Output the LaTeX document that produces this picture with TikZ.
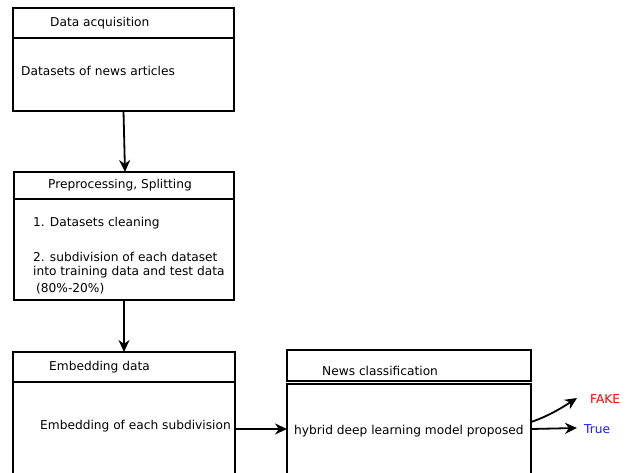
\documentclass[tikz,border=0pt]{standalone}
\usepackage{fontspec}
\setmainfont{DejaVu Sans}
\usetikzlibrary{arrows.meta}
\begin{document}
\begin{tikzpicture}[x=1pt,y=-1pt,
  box/.style={draw, line width=1.8pt, inner sep=0pt, outer sep=0pt},
  lbl/.style={anchor=west, inner sep=0pt, yshift=-1.5pt, font=\fontsize{12.2}{14}\selectfont},
  conn/.style={line width=1.8pt, -{Stealth[length=12pt,width=11pt]}}]
\useasboundingbox (0,0) rectangle (630,472);
\clip (0,0) rectangle (630,472);
% box 1
\node[box, minimum width=221pt, minimum height=30pt] (h1) at (123.5,23) {};
\node[box, minimum width=221pt, minimum height=73pt] (b1) at (123.5,74.5) {};
\node[lbl] (t1) at (50,22) {Data acquisition};
\node[lbl] (s1) at (21,69) {Datasets of news articles};
% box 2
\node[box, minimum width=220pt, minimum height=27pt] (h2) at (124,185.5) {};
\node[box, minimum width=220pt, minimum height=101pt] (b2) at (124,249.5) {};
\node[lbl] (t2) at (48,184) {Preprocessing, Splitting};
\node[lbl] (s2a) at (33,222) {1. Datasets cleaning};
\node[lbl] (s2b) at (33,255) {2. subdivision of each dataset};
\node[lbl] (s2c) at (33,271) {into training data and test data};
\node[lbl] (s2d) at (36,287) {(80\%-20\%)};
% box 3
\node[box, minimum width=222pt, minimum height=30pt] (h3) at (124,367) {};
\node[box, minimum width=222pt, minimum height=118pt] (b3) at (124,441) {};
\node[lbl] (t3) at (49,366) {Embedding data};
\node[lbl] (s3) at (40,425) {Embedding of each subdivision};
% box 4
\node[box, minimum width=244pt, minimum height=31pt] (h4) at (409,365.5) {};
\node[box, minimum width=244pt, minimum height=118pt] (b4) at (409,443) {};
\node[lbl] (t4) at (322,369) {News classification};
\node[lbl] (s4) at (294,430) {hybrid deep learning model proposed};
% outputs
\node[lbl, text=red] (fake) at (590,398) {FAKE};
\node[lbl, text={rgb,255:red,26;green,26;blue,255}] (true) at (584,428) {True};
% connectors
\draw[conn] (b1.south) -- ([xshift=1pt]h2.north);
\draw[conn] (b2.south) -- (h3.north);
\draw[conn] ([yshift=12pt]b3.east) -- ([yshift=14pt]b4.west);
\draw[conn] ([yshift=14pt]b4.east) -- ([xshift=-7pt,yshift=1.5pt]true.west);
\draw[conn] ([yshift=21pt]b4.east) .. controls +(18,-6) and +(-14,9) .. ([xshift=-13pt,yshift=1.5pt]fake.west);
\end{tikzpicture}
\end{document}
